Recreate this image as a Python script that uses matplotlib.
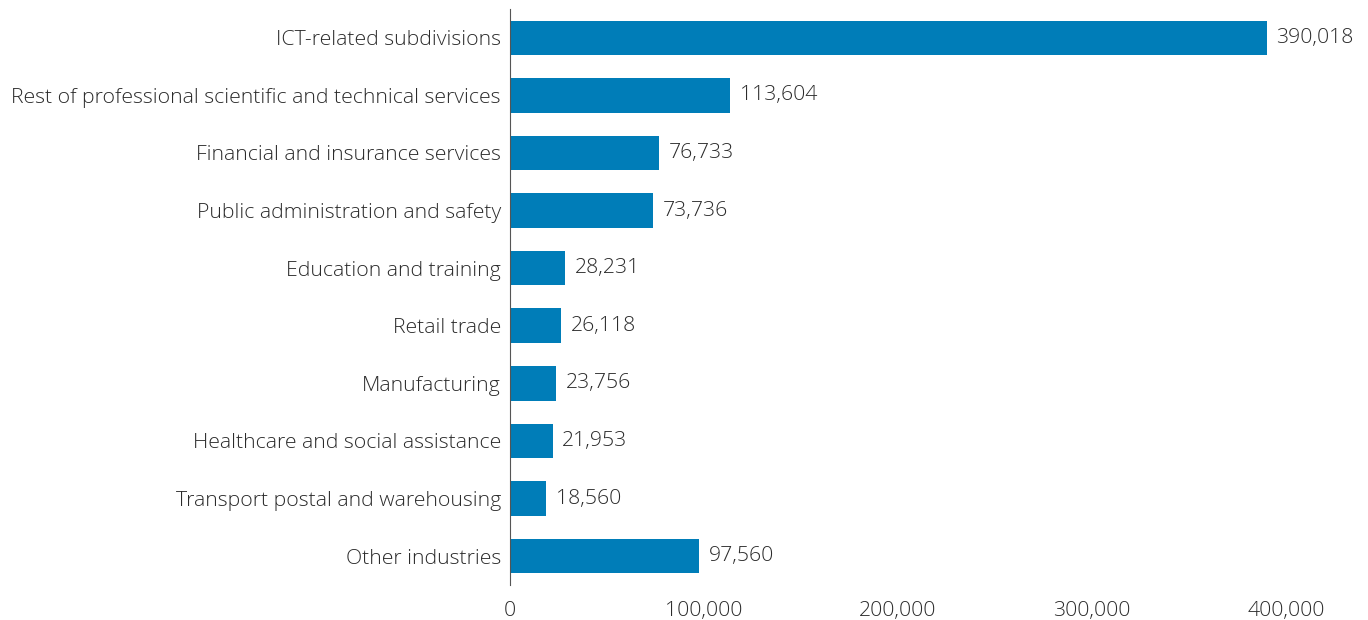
import matplotlib.pyplot as plt

industries = [
    "ICT-related subdivisions",
    "Rest of professional scientific and technical services",
    "Financial and insurance services",
    "Public administration and safety",
    "Education and training",
    "Retail trade",
    "Manufacturing",
    "Healthcare and social assistance",
    "Transport postal and warehousing",
    "Other industries",
]
workers = [390018, 113604, 76733, 73736, 28231, 26118, 23756, 21953, 18560, 97560]
x_ticks = [0, 100000, 200000, 300000, 400000]

plt.rcParams['font.family'] = ['Open Sans', 'DejaVu Sans']
plt.rcParams['font.weight'] = 'light'
text_color = '#2b2b2b'
fs = 15.3

fig = plt.figure(figsize=(13.68, 6.2), dpi=100)
ax = fig.add_axes([0.3728, 0.0565, 0.5673, 0.929])

ypos = range(len(industries))
ax.barh(ypos, workers, height=0.6, color='#007db8')
for y, v in zip(ypos, workers):
    ax.annotate(f"{v:,}", (v, y), xytext=(7, 0), textcoords='offset points',
                va='center', ha='left', fontsize=fs, color=text_color)

ax.set_yticks(list(ypos))
ax.set_yticklabels(industries, fontsize=fs, color=text_color)
ax.set_xticks(x_ticks)
ax.set_xticklabels([f"{t:,}" for t in x_ticks], fontsize=fs, color=text_color)
ax.set_xlim(0, 400000)
ax.set_ylim(len(industries) - 0.5, -0.5)
ax.tick_params(length=0)
ax.tick_params(axis='y', pad=6.5)
ax.tick_params(axis='x', pad=11.5)
for s in ['top', 'right', 'bottom']:
    ax.spines[s].set_visible(False)
ax.spines['left'].set_color('#555555')
ax.spines['left'].set_linewidth(0.8)

fig.savefig('out.png', dpi=100)
